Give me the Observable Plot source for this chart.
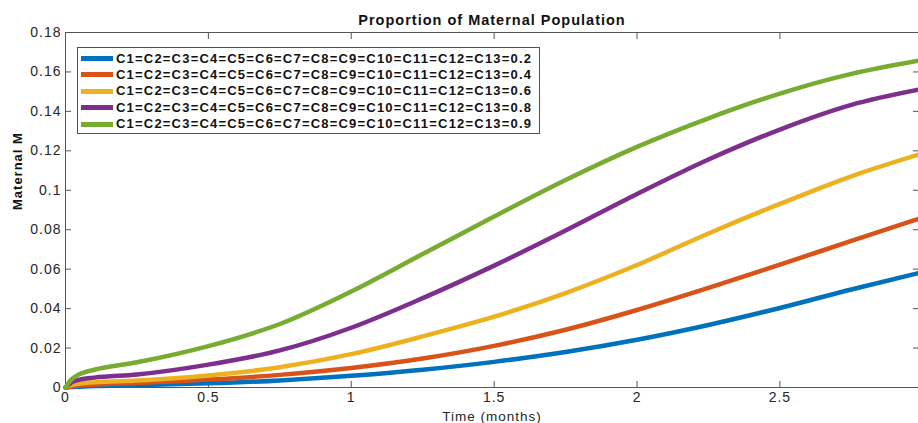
<!DOCTYPE html>
<html><head><meta charset="utf-8">
<script src="https://cdn.jsdelivr.net/npm/d3@7"></script>
<script src="https://cdn.jsdelivr.net/npm/@observablehq/plot@0.6"></script>
<style>
html,body{margin:0;padding:0;background:#fff;}
#wrap{position:relative;width:918px;height:423px;overflow:hidden;font-family:"Liberation Sans",Arial,Helvetica,sans-serif;}
#wrap svg text{letter-spacing:1px;}
#legend{position:absolute;left:77px;top:47px;width:463px;height:87px;border:1px solid #505050;background:#fff;box-sizing:border-box;}
.row{position:absolute;left:0;height:16px;width:100%;}
.sw{position:absolute;left:3px;top:5.5px;width:32px;height:5px;}
.lab{position:absolute;left:38px;top:0;font-weight:bold;font-size:13px;letter-spacing:1.2px;color:#111;white-space:nowrap;line-height:16px;}
</style></head><body><div id="wrap"></div>
<script>
// time points (months)
const times = [0, 0.02, 0.05, 0.1, 0.25, 0.5, 0.75, 1, 1.25, 1.5, 1.75, 2, 2.25, 2.5, 2.75, 2.985];
// legend labels
const seriesNames = [
  "C1=C2=C3=C4=C5=C6=C7=C8=C9=C10=C11=C12=C13=0.2",
  "C1=C2=C3=C4=C5=C6=C7=C8=C9=C10=C11=C12=C13=0.4",
  "C1=C2=C3=C4=C5=C6=C7=C8=C9=C10=C11=C12=C13=0.6",
  "C1=C2=C3=C4=C5=C6=C7=C8=C9=C10=C11=C12=C13=0.8",
  "C1=C2=C3=C4=C5=C6=C7=C8=C9=C10=C11=C12=C13=0.9"
];
const seriesColors = ["#0072BD", "#D95319", "#EDB120", "#7E2F8E", "#77AC30"];
// Maternal M values
const m02 = [0, 0.0002, 0.0004, 0.0007, 0.0012, 0.0021, 0.0036, 0.0059, 0.0090, 0.0130, 0.0180, 0.0242, 0.0317, 0.0403, 0.0497, 0.0580];
const m04 = [0, 0.0005, 0.0010, 0.0015, 0.0023, 0.0040, 0.0064, 0.0099, 0.0147, 0.0211, 0.0293, 0.0393, 0.0505, 0.0623, 0.0743, 0.0855];
const m06 = [0, 0.0012, 0.0020, 0.0026, 0.0035, 0.0061, 0.0103, 0.0169, 0.0259, 0.0359, 0.0479, 0.0621, 0.0781, 0.0931, 0.1071, 0.1181];
const m08 = [0, 0.0025, 0.0040, 0.0050, 0.0066, 0.0116, 0.0188, 0.0303, 0.0453, 0.0618, 0.0796, 0.0981, 0.1156, 0.1308, 0.1433, 0.1510];
const m09 = [0, 0.0040, 0.0068, 0.0090, 0.0128, 0.0210, 0.0322, 0.0487, 0.0677, 0.0867, 0.1052, 0.1220, 0.1365, 0.1490, 0.1590, 0.1657];
const seriesValues = [m02, m04, m06, m08, m09];

const xTicks = [0, 0.5, 1, 1.5, 2, 2.5];
const yTicks = [0, 0.02, 0.04, 0.06, 0.08, 0.1, 0.12, 0.14, 0.16, 0.18];

const rows = [];
seriesValues.forEach((vals, i) => {
  vals.forEach((v, j) => rows.push({t: times[j], m: v, s: seriesNames[i]}));
});

const axisColor = "#555";
const textColor = "#262626";

const chart = Plot.plot({
  width: 918,
  height: 423,
  marginLeft: 65,
  marginRight: 0,
  marginTop: 32,
  marginBottom: 36,
  style: {fontFamily: '"Liberation Sans", Arial, sans-serif', fontSize: "14px", color: textColor, background: "#fff"},
  x: {domain: [0, 2.985], label: null},
  y: {domain: [0, 0.18], label: null},
  color: {domain: seriesNames, range: seriesColors},
  marks: [
    Plot.ruleX([0], {stroke: axisColor}),
    Plot.ruleY([0, 0.18], {stroke: axisColor}),
    Plot.axisX({anchor: "bottom", ticks: xTicks, tickSize: -6, tickPadding: 11, tickFormat: d => String(d), stroke: axisColor, fill: textColor, label: null}),
    Plot.axisX({anchor: "top", ticks: xTicks, tickSize: -6, tickFormat: () => "", stroke: axisColor, label: null}),
    Plot.axisY({anchor: "left", ticks: yTicks, tickSize: -6, tickPadding: 10, tickFormat: d => String(d), stroke: axisColor, fill: textColor, label: null}),
    Plot.axisY({anchor: "right", ticks: yTicks, tickSize: -6, tickFormat: () => "", stroke: axisColor, label: null}),
    Plot.line(rows, {x: "t", y: "m", z: "s", stroke: "s", strokeWidth: 4.5, curve: "monotone-x"}),
    Plot.text(["Proportion of Maternal Population"], {text: d => d, frameAnchor: "top", dy: -12, lineAnchor: "middle", fontWeight: "bold", fontSize: 14.5, fill: "#111"}),
    Plot.text(["Maternal M"], {text: d => d, frameAnchor: "left", dx: -48, rotate: -90, fontWeight: "bold", fontSize: 13, fill: "#111"}),
    Plot.text(["Time (months)"], {text: d => d, frameAnchor: "bottom", dy: 29, lineAnchor: "middle", fontSize: 13.5, fill: textColor})
  ]
});

const wrap = document.getElementById("wrap");
wrap.appendChild(chart);

const legend = document.createElement("div");
legend.id = "legend";
seriesNames.forEach((name, i) => {
  const row = document.createElement("div");
  row.className = "row";
  row.style.top = (2.5 + 16.4 * i) + "px";
  const sw = document.createElement("div");
  sw.className = "sw";
  sw.style.background = seriesColors[i];
  const lab = document.createElement("div");
  lab.className = "lab";
  lab.textContent = name;
  row.appendChild(sw);
  row.appendChild(lab);
  legend.appendChild(row);
});
wrap.appendChild(legend);
</script>
</body></html>
